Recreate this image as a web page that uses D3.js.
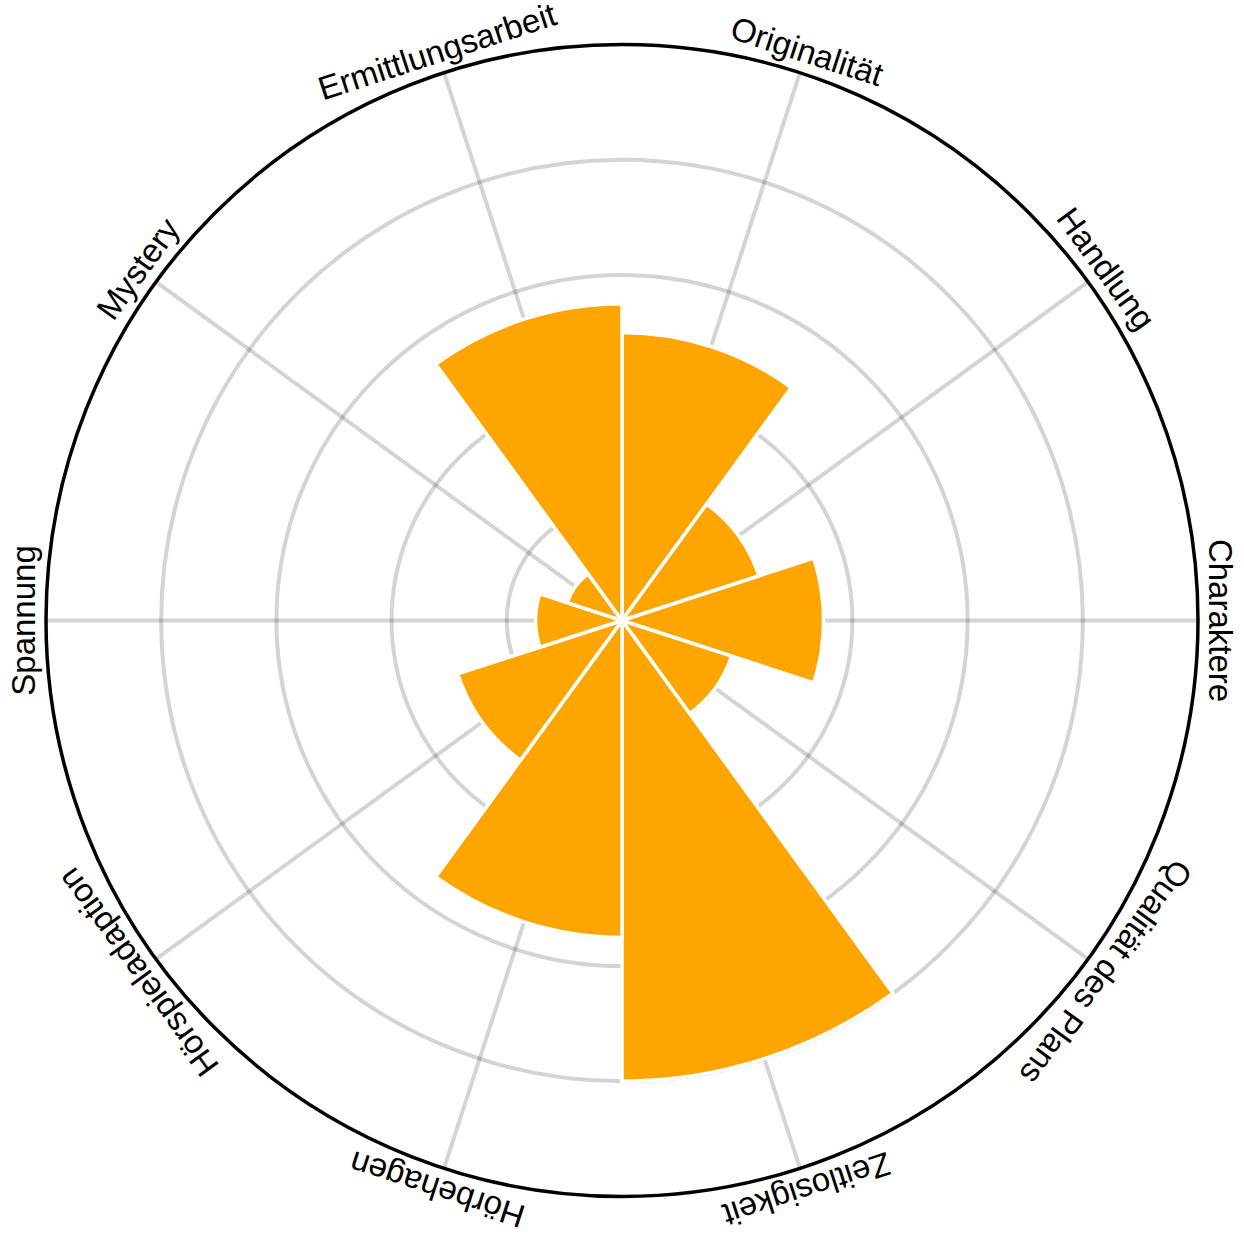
<!DOCTYPE html>
<html>
<head>
<meta charset="utf-8">
<script src="https://cdn.jsdelivr.net/npm/d3@7"></script>
<style>
    body { margin: 0; background: #fff; }
</style>
</head>
<body>
<div id="graph"></div>
<script>
/*global d3 */

// catégories dans le sens horaire, à partir de midi
var categories = ["Originalität", "Handlung", "Charaktere", "Qualität des Plans",
                  "Zeitlosigkeit", "Hörbehagen", "Hörspieladaption", "Spannung",
                  "Mystery", "Ermittlungsarbeit"];
var valeurs = [2.5, 1.25, 1.75, 1, 4, 2.75, 1.5, 0.75, 0.5, 2.75];
var graduations = [1, 2, 3, 4];
var maxi = 5;

function dessinRose() {
    "use strict";
    var width = 1244,
        height = 1243,
        cx = 622,
        cy = 620.5,
        rayon = 576,
        couleur_barres = "#FFA500",

        svg = d3.select("#graph")
            .append("svg")
                .attr("width", width)
                .attr("height", height)
            .append("g")
                .attr("transform", "translate(" + cx + "," + cy + ")"),

        x = d3.scaleBand()
            .domain(categories)
            .range([0, 2 * Math.PI])
            .padding(0),

        y = d3.scaleLinear()
            .domain([0, maxi])
            .range([0, rayon]),

        milieu = function (d) { return x(d) + x.bandwidth() / 2; };

    // cercles de la grille
    svg.selectAll(".cercle")
        .data(graduations)
        .enter()
        .append("circle")
        .attr("r", function (d) { return y(d); })
        .style("fill", "none")
        .style("stroke", "rgba(0,0,0,0.17)")
        .style("stroke-width", 4);

    // rayons de la grille, au milieu de chaque catégorie
    svg.selectAll(".rayon")
        .data(categories)
        .enter()
        .append("line")
        .attr("x1", 0)
        .attr("y1", 0)
        .attr("x2", function (d) { return y(maxi) * Math.sin(milieu(d)); })
        .attr("y2", function (d) { return -y(maxi) * Math.cos(milieu(d)); })
        .style("stroke", "rgba(0,0,0,0.17)")
        .style("stroke-width", 4);

    // barres
    svg.selectAll(".barre")
        .data(categories)
        .enter()
        .append("path")
        .attr("d", d3.arc()
            .innerRadius(0)
            .outerRadius(function (d, i) { return y(valeurs[i]); })
            .startAngle(function (d) { return x(d); })
            .endAngle(function (d) { return x(d) + x.bandwidth(); }))
        .style("fill", couleur_barres)
        .style("stroke", "#fff")
        .style("stroke-width", 3.5)
        .style("stroke-linejoin", "miter");

    // cercle extérieur
    svg.append("circle")
        .attr("r", y(maxi))
        .style("fill", "none")
        .style("stroke", "#000")
        .style("stroke-width", 3.5);

    // libellés tangents au cercle
    svg.selectAll(".libelle")
        .data(categories)
        .enter()
        .append("text")
        .attr("transform", function (d) {
            return "rotate(" + (milieu(d) * 180 / Math.PI) + ") translate(0," + (-(y(maxi) + 11)) + ")";
        })
        .style("text-anchor", "middle")
        .style("font-family", "'Liberation Sans', Arial, sans-serif")
        .style("font-size", "33px")
        .style("fill", "#000")
        .text(function (d) { return d; });
}

dessinRose();
</script>
</body>
</html>
